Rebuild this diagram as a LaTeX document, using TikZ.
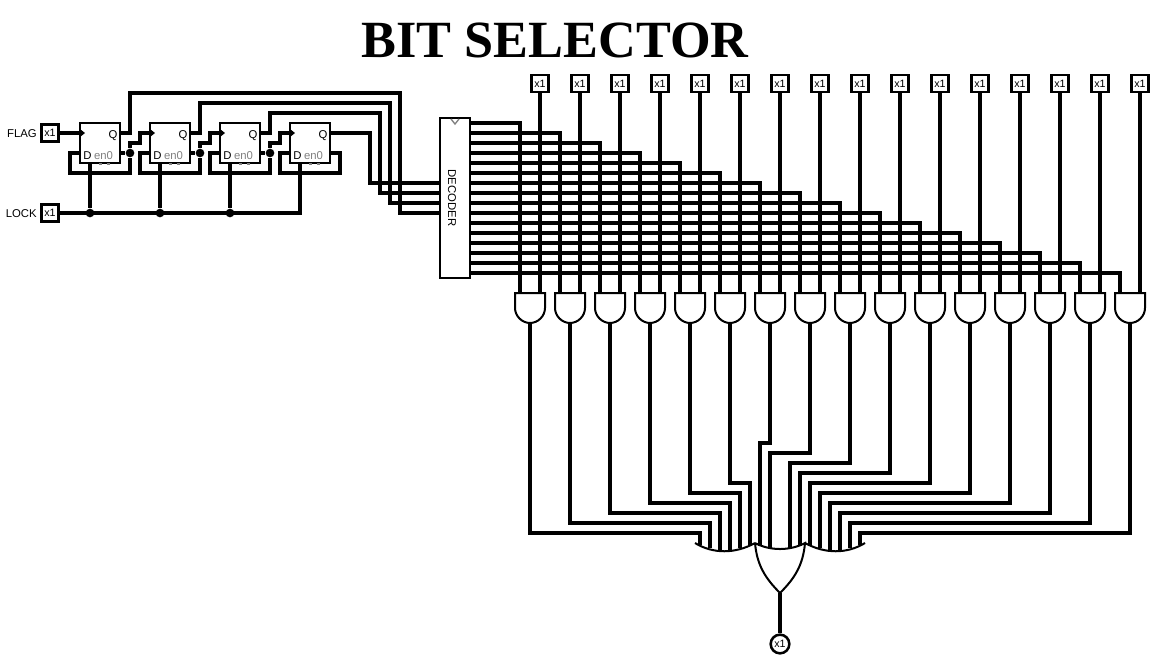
\documentclass[tikz,border=0pt]{standalone}
\usepackage{fontspec}
\setmainfont{Liberation Sans}
\newfontfamily\titlefont{Liberation Serif}
\newcommand{\xone}{\raisebox{-1.5pt}{x1}}

\begin{document}
\begin{tikzpicture}[x=0.75pt,y=-0.75pt,node distance=52.5pt,
        wire/.style={line width=2.3pt},
        gate line/.style={line width=1.5pt},
        ff node/.style={rectangle,draw,line width=1.5pt,minimum size=30pt,inner sep=0pt,outer sep=0pt},
        x1 node/.style={rectangle,draw,line width=1.9pt,minimum size=13pt,inner sep=0pt,font=\fontsize{8}{8}\selectfont},
        and node/.style={rectangle,minimum size=22.5pt,inner sep=0pt,outer sep=0pt},
        dot node/.style={circle,fill,inner sep=0pt,minimum size=6.5pt},
        pin text/.style={inner sep=0pt,font=\fontsize{8.5}{8.5}\selectfont},
        side text/.style={inner sep=0pt,anchor=east,font=\fontsize{8.5}{8.5}\selectfont}]
            \useasboundingbox (0,0) rectangle (1155,658);

            \node[inner sep=0pt,font=\titlefont\bfseries\fontsize{39.2}{39.2}\selectfont] (title) at (555,40) {BIT SELECTOR};

            \node[side text] (flag) at (37,134) {FLAG};
            \node[side text] (lock) at (37,214) {LOCK};
            \node[x1 node] (xflag) at (50,133) {\xone};
            \node[x1 node] (xlock) at (50,213) {\xone};

            \node[ff node] (f1) at (100,143) {};
            \node[ff node] (f2) [right of=f1] {};
            \node[ff node] (f3) [right of=f2] {};
            \node[ff node] (f4) [right of=f3] {};

            \node[rectangle,draw,line width=1.5pt,minimum width=22.5pt,minimum height=120pt,inner sep=0pt,outer sep=0pt] (dec) at (455,198) {};
            \node[pin text,rotate=-90] (dectext) at (452,198) {DECODER};
            \draw[gray,line width=1pt] ([shift={(-4,1)}]dec.north) -- ([shift={(0,6)}]dec.north) -- ([shift={(4,1)}]dec.north);

            \foreach \i in {1,...,4} {
                \coordinate (ck\i) at ([shift={(0,10)}]f\i.north west);
                \coordinate (dp\i) at ([shift={(0,30)}]f\i.north west);
                \coordinate (qp\i) at ([shift={(0,10)}]f\i.north east);
                \coordinate (np\i) at ([shift={(0,30)}]f\i.north east);
                \coordinate (cl\i) at ([shift={(-10,0)}]f\i.south);
                \coordinate (in\i) at ([shift={(0,105-10*\i)}]dec.north west);
                \node[pin text] (q\i) at ([shift={(13,-7)}]f\i.center) {Q};
                \node[pin text] (dl\i) at ([shift={(-12.5,13)}]f\i.center) {D};
                \node[pin text,text=gray] (en\i) at ([shift={(3.5,13)}]f\i.center) {en0};
                \fill (ck\i) ++(0,-4) -- ++(5,4) -- ++(-5,4) -- cycle;
                \draw[line width=1pt,gray] ([shift={(-1,1)}]f\i.south) -- ([shift={(2,1)}]f\i.south)
                    ([shift={(7,1)}]f\i.south) -- ([shift={(10,1)}]f\i.south);
            }
            \foreach \i in {1,2,3} {
                \node[dot node] (j\i) at ([shift={(10,0)}]np\i) {};
                \node[dot node] (k\i) at ([shift={(0,50)}]cl\i) {};
            }

            \draw[wire] (xflag) -- (ck1);
            \draw[wire] (xlock) -| (cl4);
            \foreach \i in {1,2,3} \draw[wire] (cl\i) -- (k\i);

            \foreach \i/\n in {1/2,2/3,3/4} {
                \draw[wire] (np\i) -- (j\i);
                \draw[wire] (j\i) -- ++(0,-10) -- ++(10,0) |- (ck\n);
                \draw[wire] (dp\i) -- ++(-10,0) -- ++(0,20) -| (j\i);
            }
            \draw[wire] (dp4) -- ++(-10,0) -- ++(0,20) -- ++(60,0) |- (np4);

            \foreach \i/\up/\rt in {1/93/400,2/103/390,3/113/380} {
                \draw[wire] (qp\i) -- ++(10,0) |- (\rt,\up) |- (in\i);
            }
            \draw[wire] (qp4) -- (370,133) |- (in4);

            \foreach \i in {0,...,15} {
                \node[x1 node] (t\i) at (540+40*\i,83.5) {\xone};
                \node[and node] (a\i) at (530+40*\i,308) {};
                \coordinate (d\i) at ([shift={(0,5+10*\i)}]dec.north east);
                \coordinate (al\i) at ([shift={(-10,0)}]a\i.north);
                \coordinate (ar\i) at ([shift={(10,0)}]a\i.north);
                \draw[wire] (d\i) -| (al\i);
                \draw[wire] (t\i) -- (ar\i);
                \draw[gate line] (a\i.north west) -- (a\i.north east) -- ++(0,15)
                    .. controls +(0,8) and +(8,0) .. (a\i.south)
                    .. controls +(-8,0) and +(0,8) .. ++(-15,-15) -- cycle;
            }

            \foreach \i/\lev/\x/\y in {0/533/700/545,1/523/710/548,2/513/720/550,3/503/730/551,
                4/493/740/548,5/483/750/545,6/443/760/546,7/453/770/549,
                8/463/790/549,9/473/800/546,10/483/810/545,11/493/820/548,
                12/503/830/551,13/513/840/550,14/523/850/548,15/533/860/545} {
                \coordinate (m\i) at (\x,\lev);
                \coordinate (o\i) at (\x,\y);
                \draw[wire] (a\i.south) |- (m\i) -- (o\i);
            }

            \coordinate (w1) at (695,543);
            \coordinate (w2) at (755,543);
            \coordinate (w3) at (805,543);
            \coordinate (w4) at (865,543);
            \coordinate (w5) at (780,593);
            \node[circle,draw,line width=1.9pt,minimum size=14pt,inner sep=0pt,font=\fontsize{8}{8}\selectfont] (out) at (780,644) {\xone};

            \draw[gate line] (w1) .. controls (713,554) and (735,554) .. (w2);
            \draw[gate line] (w3) .. controls (825,554) and (847,554) .. (w4);
            \draw[gate line] (w2) .. controls (770,551) and (790,551) .. (w3)
                .. controls (803,565) and (795,578) .. (w5)
                .. controls (765,578) and (757,565) .. (w2);
            \draw[wire] (w5) -- (out);
        \end{tikzpicture}
\end{document}
